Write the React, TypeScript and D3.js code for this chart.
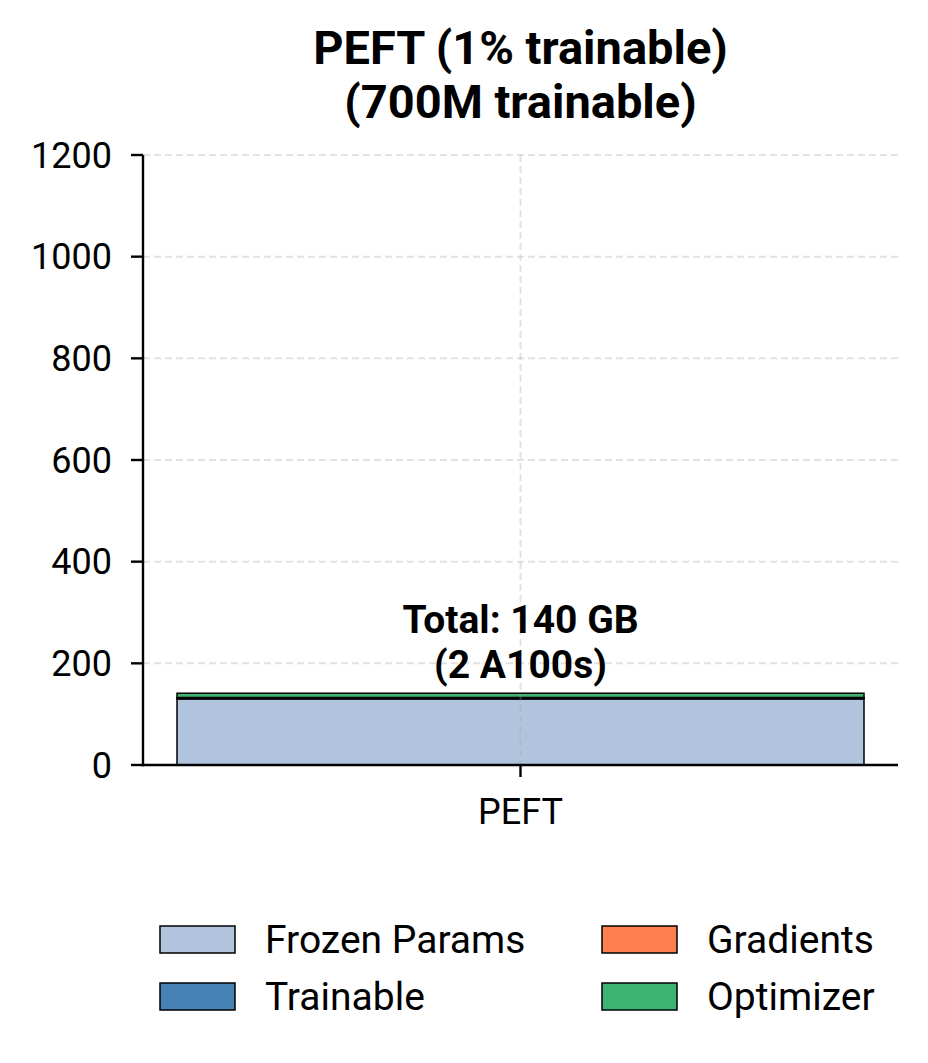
import React from "react";
import * as d3 from "d3";

const categories = ["PEFT"];
const seriesNames = ["Frozen Params", "Trainable", "Gradients", "Optimizer"];
const seriesColors = ["#b0c4de", "#4682b4", "#ff7f50", "#3cb371"];
const frozen = [130];
const trainable = [1.4];
const gradients = [1.4];
const optimizer = [8.4];
const totalLabels = ["Total: 140 GB"];
const gpuLabels = ["(2 A100s)"];
const yTicks = [0, 200, 400, 600, 800, 1000, 1200];
const titleLines = ["PEFT (1% trainable)", "(700M trainable)"];

const W = 928;
const H = 1063;
const FONT = "Roboto, 'Noto Sans', sans-serif";

export default function App() {
  const left = 143, right = 898, top = 155, bottom = 765;
  const y = d3.scaleLinear().domain([0, 1200]).range([bottom, top]);
  const x = d3.scaleLinear().domain([-0.4396, 0.4396]).range([left, right]);
  const barW = 0.8;
  const rows = categories.map((c, i) => ({
    cat: c,
    "Frozen Params": frozen[i],
    Trainable: trainable[i],
    Gradients: gradients[i],
    Optimizer: optimizer[i],
  }));
  const stack = d3.stack<any>().keys(seriesNames)(rows);
  const grid = "rgba(160,160,160,0.3)";
  const cx = (left + right) / 2;

  return (
    <svg width={W} height={H} style={{ display: "block", position: "absolute", left: 0, top: 0 }} fontFamily={FONT}>
      <rect width={W} height={H} fill="#fff" />
      {titleLines.map((t, i) => (
        <text key={i} x={cx} y={64 + i * 54} textAnchor="middle" fontSize={47} fontWeight="bold" fill="#000">
          {t}
        </text>
      ))}
      {stack.map((s, si) =>
        s.map((d, i) => (
          <rect
            key={si + "-" + i}
            x={x(i - barW / 2)}
            width={x(i + barW / 2) - x(i - barW / 2)}
            y={y(d[1])}
            height={y(d[0]) - y(d[1])}
            fill={seriesColors[si]}
            stroke="#000"
            strokeWidth={1.5}
          />
        ))
      )}
      {yTicks.map((t) => (
        <line key={t} x1={left} x2={right} y1={y(t)} y2={y(t)} stroke={grid} strokeWidth={2} strokeDasharray="7,4" />
      ))}
      {categories.map((c, i) => (
        <line key={c} x1={x(i)} x2={x(i)} y1={top} y2={bottom} stroke={grid} strokeWidth={2} strokeDasharray="7,4" />
      ))}
      {categories.map((c, i) => {
        const tot = frozen[i] + trainable[i] + gradients[i] + optimizer[i];
        const yy = y(tot);
        return (
          <g key={c}>
            <text x={x(i)} y={yy - 60} textAnchor="middle" fontSize={39} fontWeight="bold">{totalLabels[i]}</text>
            <text x={x(i)} y={yy - 15} textAnchor="middle" fontSize={39} fontWeight="bold">{gpuLabels[i]}</text>
          </g>
        );
      })}
      <line x1={left} x2={left} y1={top} y2={bottom + 1.2} stroke="#000" strokeWidth={2.4} />
      <line x1={left - 1.2} x2={right} y1={bottom} y2={bottom} stroke="#000" strokeWidth={2.4} />
      {yTicks.map((t) => (
        <g key={t}>
          <line x1={left - 12} x2={left} y1={y(t)} y2={y(t)} stroke="#000" strokeWidth={2.4} />
          <text x={left - 31} y={y(t)} dy="0.35em" textAnchor="end" fontSize={36}>{t}</text>
        </g>
      ))}
      {categories.map((c, i) => (
        <g key={c}>
          <line x1={x(i)} x2={x(i)} y1={bottom} y2={bottom + 12} stroke="#000" strokeWidth={2.4} />
          <text x={x(i)} y={824} textAnchor="middle" fontSize={36}>{c}</text>
        </g>
      ))}
      {seriesNames.map((n, i) => {
        const col = Math.floor(i / 2);
        const row = i % 2;
        const lx = 160 + col * 442;
        const ly = 926 + row * 57;
        return (
          <g key={n}>
            <rect x={lx} y={ly} width={75} height={27} fill={seriesColors[i]} stroke="#000" strokeWidth={1.5} />
            <text x={lx + 105} y={ly + 13.5} dy="0.35em" fontSize={39}>{n}</text>
          </g>
        );
      })}
    </svg>
  );
}
